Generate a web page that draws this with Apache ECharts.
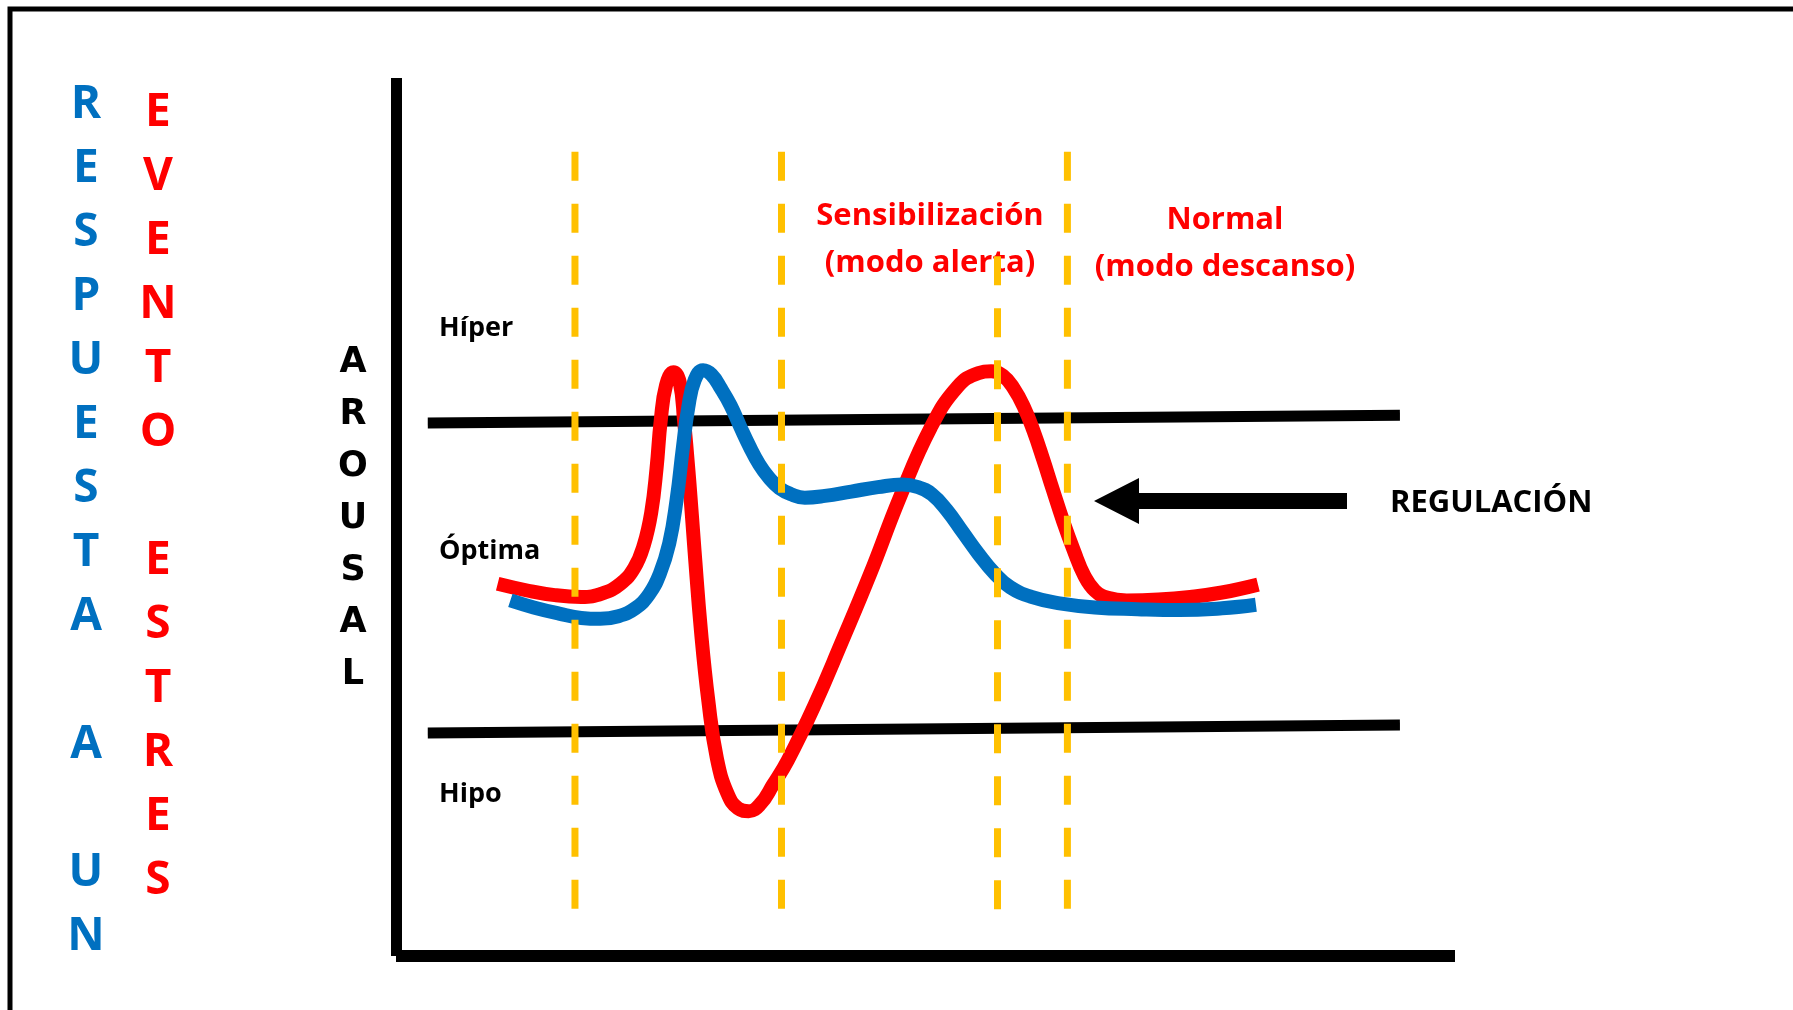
<!DOCTYPE html>
<html>
<head>
<meta charset="utf-8">
<script src="https://cdn.jsdelivr.net/npm/echarts@6/dist/echarts.min.js"></script>
<style>
html,body{margin:0;padding:0;background:#fff;}
#chart{width:1793px;height:1010px;}
</style>
</head>
<body>
<div id="chart"></div>
<script>
// ---- data (x: time 0-100, y: arousal 0-100) ----
const eventoCurve = [[9.6,42.4],[12.5,41.6],[15,41.1],[17.5,40.9],[19.5,41.3],[21.2,42.4],[22.5,44.2],[23.4,46.8],[24.1,50.5],[24.6,55.5],[25.0,61],[25.5,65],[26.2,66.5],[26.8,65.3],[27.2,61],[27.7,54],[28.2,46],[28.8,37],[29.5,29],[30.3,22.5],[31.3,18.5],[32.3,16.8],[33.3,16.5],[34.4,17.3],[35.6,19.5],[37,22.3],[39.5,28.5],[42,35.5],[44.8,43.6],[47.6,52.3],[50.5,60.2],[53,64.8],[55,66.4],[56.2,66.6],[57.3,66.1],[58.3,64.7],[59.3,62.5],[60.2,59.8],[61.1,56.6],[62,53.2],[63,49.5],[64,46.2],[65,43.3],[66,41.6],[67.2,40.8],[69,40.5],[72,40.6],[75,40.9],[78,41.4],[81.4,42.3]];
const respuestaCurve = [[10.8,40.5],[13,39.7],[15.4,39.0],[17.5,38.5],[19.3,38.4],[21,38.7],[22.6,39.6],[23.9,41.2],[24.9,43.5],[25.8,47],[26.5,52],[27.1,58],[27.6,62.5],[28.2,65.6],[29.0,66.7],[29.8,66.2],[30.7,64.6],[31.6,62.7],[32.5,60.3],[33.4,58],[34.3,56],[35.2,54.5],[36.2,53.3],[37.3,52.6],[38.6,52.2],[40.5,52.4],[43,52.9],[45.5,53.4],[47.8,53.7],[49.3,53.4],[50.6,52.6],[52,50.8],[53.5,48.3],[55,45.8],[56.5,43.6],[58,42],[60,40.9],[62.5,40.2],[66,39.7],[70,39.5],[74,39.4],[78,39.6],[81.2,40.0]];
const hiperLimit = [[3.0,60.7],[94.8,61.6]];
const hipoLimit = [[3.0,25.4],[94.8,26.3]];
const phaseX = [16.9, 36.4, 56.8, 63.4];
const phaseTop = [91.6, 91.6, 79.7, 91.6];
const phaseBottom = 4.9;
const levelLabels = ['Híper', 'Óptima', 'Hipo'];
const blueWord = 'RESPUESTA A UN';
const redWord = 'EVENTO ESTRES';
const axisWord = 'AROUSAL';
const phaseLabels = [['Sensibilización', '(modo alerta)'], ['Normal', '(modo descanso)']];
const arrowLabel = 'REGULACIÓN';

const chart = echarts.init(document.getElementById('chart'), null, {renderer: 'canvas'});

const FONT = '"Open Sans", "Liberation Sans", sans-serif';
const BLUE = '#0070C0', RED = '#FF0000', ORANGE = '#FFC000';

const graphics = [];
// outer border
graphics.push({type: 'rect', shape: {x: 10, y: 9, width: 1850, height: 1100}, style: {fill: 'none', stroke: '#000', lineWidth: 5}, z: 1});
// vertical letter columns
blueWord.split('').forEach((ch, i) => {
  if (ch === ' ') return;
  graphics.push({type: 'text', x: 86, y: 105 + 64 * i, style: {text: ch, fill: BLUE, fontFamily: FONT, fontWeight: 'bold', fontSize: 46, align: 'center', verticalAlign: 'middle'}});
});
redWord.split('').forEach((ch, i) => {
  if (ch === ' ') return;
  graphics.push({type: 'text', x: 158, y: 113 + 64 * i, style: {text: ch, fill: RED, fontFamily: FONT, fontWeight: 'bold', fontSize: 46, align: 'center', verticalAlign: 'middle'}});
});
axisWord.split('').forEach((ch, i) => {
  graphics.push({type: 'text', x: 353, y: 363 + 52 * i, style: {text: ch, fill: '#000', fontFamily: '"DejaVu Sans", sans-serif', fontWeight: 'bold', fontSize: 35, align: 'center', verticalAlign: 'middle'}});
});
// level labels
const levelY = [328, 551, 794];
levelLabels.forEach((t, i) => {
  graphics.push({type: 'text', x: 439, y: levelY[i], style: {text: t, fill: '#000', fontFamily: FONT, fontWeight: 'bold', fontSize: 27, align: 'left', verticalAlign: 'middle'}});
});
// phase labels
const phaseCX = [930, 1225];
const phaseLY = [[216, 263], [220, 267]];
phaseLabels.forEach((pair, i) => {
  pair.forEach((t, j) => {
    graphics.push({type: 'text', x: phaseCX[i], y: phaseLY[i][j], style: {text: t, fill: RED, fontFamily: FONT, fontWeight: 'bold', fontSize: 31, align: 'center', verticalAlign: 'middle'}});
  });
});
// arrow
graphics.push({type: 'polygon', shape: {points: [[1094,501],[1139,478],[1139,493],[1347,493],[1347,509],[1139,509],[1139,524]]}, style: {fill: '#000'}});
graphics.push({type: 'text', x: 1390, y: 503, style: {text: arrowLabel, fill: '#000', fontFamily: FONT, fontWeight: 'bold', fontSize: 31, align: 'left', verticalAlign: 'middle'}});

const series = [];
series.push({type: 'line', data: hiperLimit, symbol: 'none', lineStyle: {color: '#000', width: 11, cap: 'butt'}, z: 2, silent: true});
series.push({type: 'line', data: hipoLimit, symbol: 'none', lineStyle: {color: '#000', width: 11, cap: 'butt'}, z: 2, silent: true});
series.push({type: 'line', data: eventoCurve, smooth: 0.45, symbol: 'none', lineStyle: {color: RED, width: 14, cap: 'butt', join: 'round'}, z: 3, silent: true});
series.push({type: 'line', data: respuestaCurve, smooth: 0.45, symbol: 'none', lineStyle: {color: BLUE, width: 14, cap: 'butt', join: 'round'}, z: 4, silent: true});
phaseX.forEach((x, i) => {
  series.push({type: 'line', data: [[x, phaseTop[i]], [x, phaseBottom]], symbol: 'none', lineStyle: {color: ORANGE, width: 7, type: [29, 23], cap: 'butt'}, z: 6, silent: true});
});

chart.setOption({
  animation: false,
  backgroundColor: '#fff',
  grid: {left: 396, top: 78, right: 338, bottom: 54},
  xAxis: {type: 'value', min: 0, max: 100, axisLine: {show: true, onZero: false, lineStyle: {color: '#000', width: 12, cap: 'butt'}}, axisTick: {show: false}, axisLabel: {show: false}, splitLine: {show: false}},
  yAxis: {type: 'value', min: 0, max: 100, axisLine: {show: true, onZero: false, lineStyle: {color: '#000', width: 11, cap: 'butt'}}, axisTick: {show: false}, axisLabel: {show: false}, splitLine: {show: false}},
  graphic: {elements: graphics},
  series: series
});
</script>
</body>
</html>
